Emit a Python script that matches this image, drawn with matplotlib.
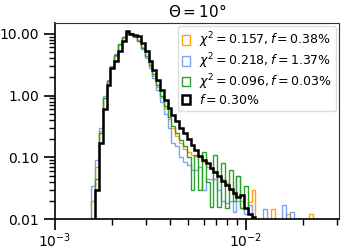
import numpy as np
import matplotlib
matplotlib.use("Agg")
import matplotlib.pyplot as plt
from matplotlib.ticker import FormatStrFormatter

# log-spaced bins, 0.02 dex wide
edges = 10 ** (-2.81 + 0.02 * np.arange(60))

orange_vals = [0.02, 0.07, 0.27, 0.9, 1.7, 2.8, 4.4, 6.5, 8.5, 10.3,
               10.0, 9.3, 8.0, 6.0, 4.3, 3.0, 2.1, 1.4, 0.95, 0.62,
               0.42, 0.30, 0.22, 0.17, 0.135, 0.12, 0.11, 0.105, 0.10, 0.085,
               0.07, 0.065, 0.06, 0.05, 0.045, 0.038, 0.03, 0.025, 0.05, 0.02,
               0.015, 0.019, 0.03, 0, 0, 0, 0, 0.0146, 0, 0,
               0, 0.012, 0, 0, 0, 0, 0, 0.012, 0]
blue_vals = [0.035, 0.09, 0.30, 1.0, 1.8, 3.0, 4.7, 6.8, 8.9, 10.5,
             10.0, 9.2, 7.6, 5.6, 4.0, 2.8, 1.9, 1.25, 0.8, 0.5,
             0.3, 0.17, 0.15, 0.10, 0.085, 0.075, 0.062, 0.062, 0.07, 0.03,
             0.045, 0.045, 0.045, 0.03, 0.02, 0.018, 0.02, 0.013, 0.02, 0.015,
             0.012, 0.017, 0, 0, 0, 0.0146, 0, 0, 0, 0,
             0.017, 0, 0.013, 0, 0, 0, 0, 0, 0]
green_vals = [0, 0.045, 0.25, 0.9, 1.7, 2.9, 4.6, 6.8, 9.0, 10.8,
              10.3, 9.0, 7.6, 5.8, 4.3, 3.1, 2.2, 1.5, 1.0, 0.68,
              0.45, 0.32, 0.25, 0.19, 0.15, 0.10, 0.03, 0.11, 0.03, 0.12,
              0.04, 0.016, 0.11, 0.016, 0.08, 0.015, 0.062, 0.02, 0.05, 0.015,
              0.035, 0.012, 0, 0, 0, 0, 0, 0, 0, 0,
              0, 0, 0, 0, 0, 0, 0, 0, 0]
black_vals = [0, 0.03, 0.17, 0.6, 1.5, 2.8, 3.6, 5.3, 7.7, 11.0,
              10.0, 9.6, 9.2, 7.0, 5.3, 3.6, 2.6, 1.8, 1.25, 0.85,
              0.63, 0.49, 0.39, 0.30, 0.247, 0.197, 0.158, 0.131, 0.105, 0.090,
              0.081, 0.067, 0.058, 0.050, 0.041, 0.0355, 0.0306, 0.0264, 0.0227, 0.0245,
              0.015, 0.012, 0.011, 0, 0, 0, 0, 0, 0, 0,
              0, 0, 0, 0, 0, 0, 0, 0, 0]

labels = [r"$\chi^2 = 0.157, f = 0.38\%$",
          r"$\chi^2 = 0.218, f = 1.37\%$",
          r"$\chi^2 = 0.096, f = 0.03\%$",
          r"$f = 0.30\%$"]

fig = plt.figure(figsize=(3.44, 2.49), dpi=100)
ax = fig.add_axes([0.16, 0.12, 0.825, 0.788])

ax.hist(edges[:-1], bins=edges, weights=orange_vals, histtype="step",
        color="orange", lw=1.0, label=labels[0])
ax.hist(edges[:-1], bins=edges, weights=blue_vals, histtype="step",
        color="cornflowerblue", lw=1.0, alpha=0.85, label=labels[1])
ax.hist(edges[:-1], bins=edges, weights=green_vals, histtype="step",
        color="tab:green", lw=1.0, label=labels[2])
ax.hist(edges[:-1], bins=edges, weights=black_vals, histtype="step",
        color="black", lw=1.8, label=labels[3])

ax.set_xscale("log")
ax.set_yscale("log")
ax.set_xlim(1e-3, 0.0307)
ax.set_ylim(0.01, 15)
ax.yaxis.set_major_formatter(FormatStrFormatter("%.2f"))

ax.tick_params(which="major", length=8, width=1.2, labelsize=10)
ax.tick_params(which="minor", length=4.5, width=1.0)
ax.tick_params(axis="x", which="major", pad=1)
for s in ["left", "bottom"]:
    ax.spines[s].set_linewidth(1.2)
for s in ["top", "right"]:
    ax.spines[s].set_color("#333333")
    ax.spines[s].set_linewidth(0.8)

ax.set_title(r"$\Theta = 10°$", fontsize=11, pad=4)
ax.legend(loc="upper right", fontsize=9, handlelength=0.6, handleheight=0.8,
          handletextpad=0.7, labelspacing=0.1, borderpad=0.35,
          borderaxespad=0.25, edgecolor="#dddddd", framealpha=1)

plt.savefig("out.png", dpi=100)
